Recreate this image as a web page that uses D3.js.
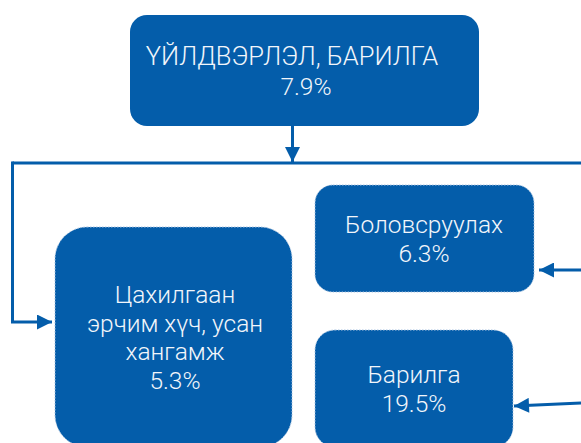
<!DOCTYPE html>
<html>
<head>
<meta charset="utf-8">
<script src="https://cdn.jsdelivr.net/npm/d3@7"></script>
<style>
  body { margin: 0; background: #fff; }
  svg { display: block; }
  .lbl { font-family: Roboto, "Noto Sans", sans-serif; font-weight: 300; font-size: 24.5px; fill: #f2f6fb; }
  .title { font-size: 25.5px; }
</style>
</head>
<body>
<svg id="chart" width="581" height="443"></svg>
<script>
// data
var sectors = ["ҮЙЛДВЭРЛЭЛ, БАРИЛГА", "Цахилгаан|эрчим хүч, усан|хангамж", "Боловсруулах", "Барилга"];
var growth = [7.9, 5.3, 6.3, 19.5];

// layout (boxes x0,y0,x1,y1,radius) - kept apart from the data
var boxes = [
  [130, 15, 479, 126, 17],
  [55, 227, 292, 447, 32],
  [315, 185, 534, 292, 18],
  [315, 330, 513, 447, 20]
];
var textX = [[292, 306], [175], [424], [414]];
var firstBase = [65, 303, 233, 383];
var lineGap = [30, 28.5, 29, 29];

var blue = "#045daa";
var fmt = d3.format(".1f");

var svg = d3.select("#chart");

svg.append("defs").append("marker")
   .attr("id", "head")
   .attr("viewBox", "0 0 10 10")
   .attr("refX", 10).attr("refY", 5)
   .attr("markerWidth", 5.5).attr("markerHeight", 5)
   .attr("markerUnits", "strokeWidth")
   .attr("orient", "auto")
  .append("path")
   .attr("d", "M0,0 L10,5 L0,10 Z")
   .attr("fill", blue);

var nodes = svg.selectAll("g.node")
  .data(sectors.map(function(s, i) { return { name: s, value: growth[i], i: i }; }))
  .enter().append("g").attr("class", "node");

nodes.append("rect")
  .attr("x", function(d) { return boxes[d.i][0]; })
  .attr("y", function(d) { return boxes[d.i][1]; })
  .attr("width", function(d) { return boxes[d.i][2] - boxes[d.i][0]; })
  .attr("height", function(d) { return boxes[d.i][3] - boxes[d.i][1]; })
  .attr("rx", function(d) { return boxes[d.i][4]; })
  .attr("fill", blue)
  .attr("stroke", function(d) { return d.i == 0 ? "none" : "#a9c3e0"; })
  .attr("stroke-width", 1)
  .attr("stroke-dasharray", "1.5,1.5");

nodes.each(function(d) {
  var g = d3.select(this);
  var lines = d.name.split("|").concat([fmt(d.value) + "%"]);
  lines.forEach(function(t, j) {
    var xs = textX[d.i];
    g.append("text")
      .attr("class", (d.i == 0 && j == 0) ? "lbl title" : "lbl")
      .attr("text-anchor", "middle")
      .attr("x", xs[Math.min(j, xs.length - 1)])
      .attr("y", firstBase[d.i] + j * lineGap[d.i])
      .text(t);
  });
});

// connectors
var line = d3.line();
var links = [
  [[292.5, 126], [292.5, 162]],
  [[12.5, 163], [581, 163]],
  [[12.5, 161.5], [12.5, 322], [52, 322]],
  [[581, 270], [539, 270]],
  [[581, 403], [514, 406]]
];
var heads = [true, false, true, true, true];

svg.selectAll("path.link")
  .data(links)
  .enter().append("path")
  .attr("class", "link")
  .attr("d", line)
  .attr("fill", "none")
  .attr("stroke", blue)
  .attr("stroke-width", 3)
  .attr("marker-end", function(d, i) { return heads[i] ? "url(#head)" : null; });
</script>
</body>
</html>
